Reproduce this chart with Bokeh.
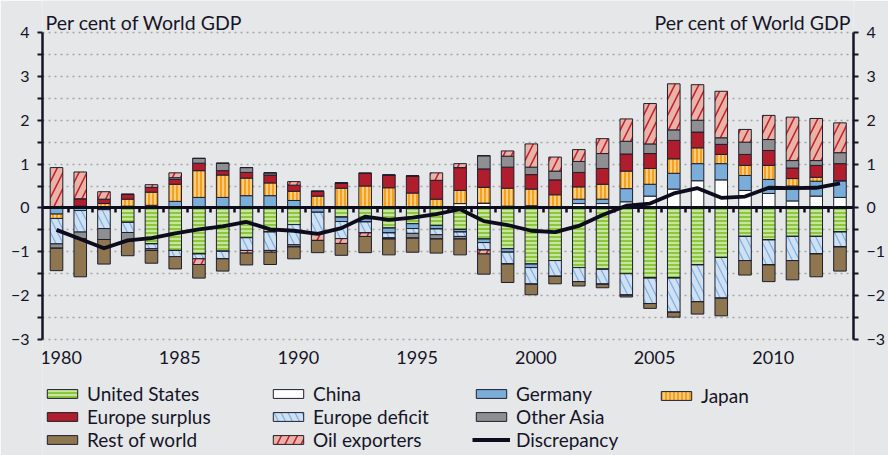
from bokeh.plotting import figure
from bokeh.models import (ColumnDataSource, LinearAxis, FixedTicker, Legend, LegendItem,
                          Label, Range1d, CustomJSTickFormatter)
from bokeh.embed import file_html
from bokeh.resources import INLINE

years = list(range(1980, 2014))

united_states = [0, 0, -0.04, -0.33, -0.82, -0.97, -1.05, -0.99, -0.68, -0.55,
                 -0.38, 0, -0.21, -0.25, -0.46, -0.36, -0.40, -0.49, -0.71, -0.93,
                 -1.28, -1.20, -1.36, -1.40, -1.50, -1.60, -1.60, -1.30, -1.13, -0.65,
                 -0.73, -0.65, -0.65, -0.55]
china = [0, 0, 0, 0, 0, 0, 0, 0, 0, 0,
         0, 0, 0, 0, 0, 0, 0, 0.10, 0.11, 0.04,
         0.05, 0.03, 0.10, 0.10, 0.14, 0.27, 0.43, 0.62, 0.64, 0.40,
         0.33, 0.16, 0.27, 0.24]
germany = [-0.14, -0.06, 0, 0.04, 0.06, 0.15, 0.24, 0.24, 0.28, 0.28,
           0.17, -0.10, -0.10, -0.07, -0.11, -0.11, -0.08, -0.06, -0.08, -0.08,
           -0.08, 0, 0.10, 0.10, 0.30, 0.27, 0.36, 0.39, 0.37, 0.34,
           0.32, 0.34, 0.34, 0.38]
japan = [-0.10, 0.04, 0.10, 0.16, 0.30, 0.39, 0.61, 0.51, 0.40, 0.29,
         0.21, 0.27, 0.45, 0.50, 0.46, 0.34, 0.20, 0.30, 0.36, 0.41,
         0.38, 0.27, 0.28, 0.34, 0.40, 0.36, 0.33, 0.36, 0.21, 0.23,
         0.32, 0.17, 0.09, 0.0]
europe_surplus = [0, 0.17, 0.10, 0.11, 0.11, 0.11, 0.17, 0.10, 0.13, 0.18,
                  0.14, 0.11, 0.12, 0.29, 0.29, 0.39, 0.43, 0.52, 0.42, 0.48,
                  0.33, 0.34, 0.33, 0.36, 0.39, 0.34, 0.42, 0.36, 0.23, 0.25,
                  0.34, 0.24, 0.27, 0.39]
europe_deficit = [-0.58, -0.49, -0.43, -0.23, -0.11, -0.14, -0.11, -0.17, -0.29, -0.42,
                  -0.46, -0.49, -0.39, -0.25, -0.11, -0.11, -0.13, -0.10, -0.17, -0.27,
                  -0.38, -0.36, -0.32, -0.34, -0.49, -0.58, -0.78, -0.84, -0.93, -0.55,
                  -0.57, -0.55, -0.40, -0.34]
other_asia = [-0.10, -0.15, -0.25, -0.19, -0.04, 0.04, 0.11, 0.17, 0.11, 0.05,
              -0.05, 0, 0, 0, -0.03, -0.11, -0.10, -0.06, 0.30, 0.25,
              0.17, 0.20, 0.25, 0.34, 0.29, 0.22, 0.24, 0.27, 0.15, 0.28,
              0.25, 0.17, 0.11, 0.25]
oil_exporters = [0.92, 0.61, 0.17, 0, 0.06, 0.11, -0.13, 0, -0.06, -0.04,
                 0.08, -0.15, -0.11, -0.08, 0, 0, 0.17, 0.09, -0.09, 0.12,
                 0.53, 0.32, 0.27, 0.34, 0.51, 0.92, 1.05, 0.81, 1.06, 0.29,
                 0.55, 0.99, 0.96, 0.68]
rest_of_world = [-0.51, -0.87, -0.56, -0.34, -0.29, -0.28, -0.31, -0.28, -0.27, -0.28,
                 -0.27, -0.28, -0.27, -0.37, -0.36, -0.32, -0.32, -0.36, -0.46, -0.42,
                 -0.24, -0.17, -0.10, -0.08, -0.04, -0.11, -0.11, -0.28, -0.40, -0.33,
                 -0.38, -0.44, -0.52, -0.55]
discrepancy = [-0.50, -0.71, -0.92, -0.74, -0.69, -0.58, -0.49, -0.42, -0.32, -0.49,
               -0.52, -0.59, -0.46, -0.20, -0.27, -0.22, -0.14, -0.03, -0.30, -0.39,
               -0.52, -0.55, -0.41, -0.16, 0.05, 0.10, 0.33, 0.45, 0.23, 0.26,
               0.46, 0.45, 0.46, 0.56]

y_ticks = [-3, -2, -1, 0, 1, 2, 3, 4]
x_ticks = [1980, 1985, 1990, 1995, 2000, 2005, 2010]

BG = "#e6e7e9"
TXT = "#151528"
FONT = "Lato"
EDGE = "#1e1e2e"

# name: values, fill, hatch pattern, hatch colour, hatch scale, hatch weight
styles = {
    "United States": (united_states, "#8cc63f", "horizontal_line", "#e2f2c6", 4, 1.4),
    "China": (china, "#ffffff", " ", "#ffffff", 4, 1),
    "Germany": (germany, "#7badd9", " ", "#7badd9", 4, 1),
    "Japan": (japan, "#f6a11c", "vertical_line", "#fde2b4", 4, 1.3),
    "Europe surplus": (europe_surplus, "#b01d2c", " ", "#b01d2c", 4, 1),
    "Europe deficit": (europe_deficit, "#cfe0f2", "left_diagonal_line", "#7fb3e6", 14, 1.3),
    "Other Asia": (other_asia, "#8f8f92", " ", "#8f8f92", 4, 1),
    "Oil exporters": (oil_exporters, "#e8b4a8", "right_diagonal_line", "#c8202e", 16, 1.6),
    "Rest of world": (rest_of_world, "#8d7650", " ", "#8d7650", 4, 1),
}

pos_order = ["China", "Germany", "Japan", "Europe surplus", "Other Asia", "Oil exporters"]
neg_order = ["United States", "China", "Germany", "Japan", "Europe deficit",
             "Other Asia", "Oil exporters", "Rest of world"]

data = {"year": years}
for name, st in styles.items():
    vals = st[0]
    data[name + "_pos"] = [max(v, 0) for v in vals]
    data[name + "_neg"] = [min(v, 0) for v in vals]
src = ColumnDataSource(data)

# frame spans the full height (axes are bounded to -3..4)
p = figure(width=888, height=455, output_backend="svg", toolbar_location=None,
           x_range=Range1d(1979.41, 2013.57), y_range=Range1d(-5.645, 4.73),
           x_axis_location=None, y_axis_location=None,
           min_border_left=42, min_border_right=34, min_border_top=0, min_border_bottom=0,
           background_fill_color=BG, border_fill_color=BG)
p.outline_line_color = None
p.xgrid.grid_line_color = None
p.ygrid.ticker = FixedTicker(ticks=[-3, -2.5, -2, -1.5, -1, -0.5, 0.5, 1, 1.5, 2, 2.5, 3, 3.5, 4])
p.ygrid.grid_line_color = "#a3a4a8"
p.ygrid.grid_line_dash = "2 4"
p.ygrid.grid_line_width = 1.3

renderers = {}


def stack(order, suffix):
    keys = [n + suffix for n in order]
    rs = p.vbar_stack(keys, x="year", width=0.53, source=src,
                      fill_color=[styles[n][1] for n in order],
                      hatch_pattern=[styles[n][2] for n in order],
                      hatch_color=[styles[n][3] for n in order],
                      hatch_scale=[styles[n][4] for n in order],
                      hatch_weight=[styles[n][5] for n in order],
                      line_color=EDGE, line_width=1)
    for n, r in zip(order, rs):
        renderers.setdefault(n, r)


stack(pos_order, "_pos")
stack(neg_order, "_neg")

disc = p.line(years, discrepancy, line_width=3.8, line_color="#0c0c1c", line_join="round")
renderers["Discrepancy"] = disc

# y axes, bounded to -3..4
minor = [v + 0.5 for v in y_ticks[:-1]]
overrides = {v: (str(v).replace("-", "\u2212")) for v in y_ticks}


def make_y():
    ax = LinearAxis(bounds=(-3, 4))
    ax.ticker = FixedTicker(ticks=y_ticks, minor_ticks=minor)
    ax.major_label_overrides = overrides
    ax.axis_line_width = 2.5
    ax.axis_line_color = TXT
    ax.major_tick_in = 0
    ax.major_tick_out = 5
    ax.minor_tick_in = 0
    ax.minor_tick_out = 5
    ax.major_tick_line_width = 2
    ax.minor_tick_line_width = 2
    ax.major_tick_line_color = TXT
    ax.minor_tick_line_color = TXT
    ax.major_label_text_font = FONT
    ax.major_label_text_font_size = "16px"
    ax.major_label_text_color = TXT
    ax.major_label_standoff = 8
    return ax


p.add_layout(make_y(), "left")
p.add_layout(make_y(), "right")

# year labels under the -3 line (set slightly right of the bar centres, as in the source)
shift = 0.19
xa = LinearAxis(fixed_location=-3,
                ticker=FixedTicker(ticks=[t + shift for t in x_ticks], minor_ticks=[]))
xa.major_label_overrides = {t + shift: str(t) for t in x_ticks}
xa.axis_line_color = None
xa.major_tick_line_color = None
xa.minor_tick_line_color = None
xa.major_tick_in = 0
xa.major_tick_out = 0
xa.major_label_standoff = 11
xa.major_label_text_font = FONT
xa.major_label_text_font_size = "18px"
xa.major_label_text_color = TXT
p.add_layout(xa, "below")

# zero line with year-boundary ticks
zero = LinearAxis(fixed_location=0,
                  ticker=FixedTicker(ticks=[y + 0.5 for y in years[:-1]], minor_ticks=[]),
                  formatter=CustomJSTickFormatter(code="return ''"))
zero.axis_line_width = 3
zero.axis_line_color = "#0c0c1c"
zero.major_tick_in = 0
zero.major_tick_out = 5
zero.major_tick_line_width = 2.5
zero.major_tick_line_color = "#0c0c1c"
zero.minor_tick_line_color = None
zero.major_label_text_font_size = "0px"
p.add_layout(zero, "below")

for txt, x, align in [("Per cent of World GDP", 3, "left"),
                      ("Per cent of World GDP", 809, "right")]:
    p.add_layout(Label(x=x, y=433, x_units="screen", y_units="screen", text=txt,
                       text_font=FONT, text_font_size="19.5px", text_color=TXT,
                       text_align=align, text_baseline="alphabetic"))

columns = [
    (["United States", "Europe surplus", "Rest of world"], 1),
    (["China", "Europe deficit", "Oil exporters"], 227),
    (["Germany", "Other Asia", "Discrepancy"], 430),
    (["Japan"], 615),
]
for names, x in columns:
    items = [LegendItem(label=n, renderers=[renderers[n]]) for n in names]
    h = len(names) * 22
    leg = Legend(items=items, location=(x, 70 - h), orientation="vertical",
                 glyph_width=38, glyph_height=11, label_height=22, spacing=0,
                 label_standoff=6, padding=0, margin=0,
                 background_fill_alpha=0, border_line_alpha=0,
                 label_text_font=FONT, label_text_font_size="19px", label_text_color=TXT)
    p.add_layout(leg)

html = file_html(p, INLINE)
html = html.replace("<body", '<body style="background-color:%s"' % BG, 1)
open("out.html", "w").write(html)
